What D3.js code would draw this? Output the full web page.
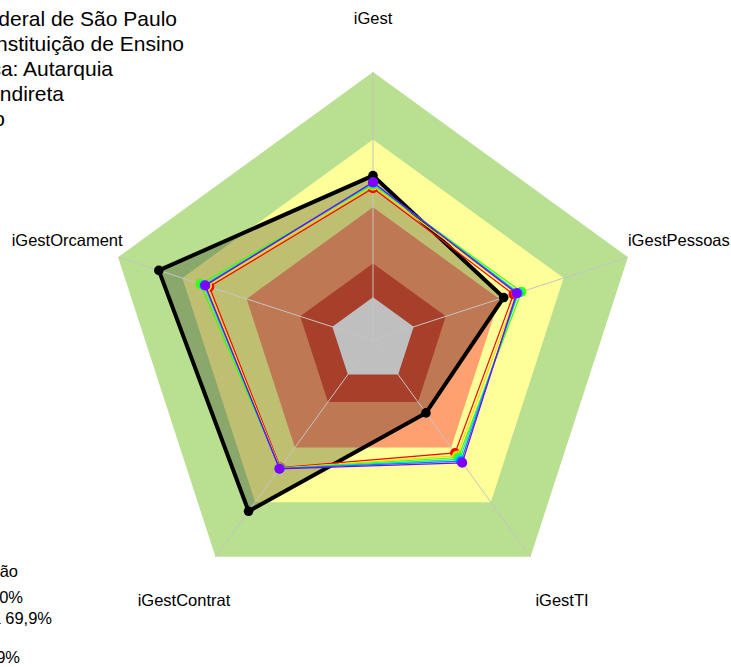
<!DOCTYPE html>
<html><head><meta charset="utf-8">
<script src="https://cdnjs.cloudflare.com/ajax/libs/d3/7.8.5/d3.min.js"></script>
<style>body{margin:0;background:#fff;overflow:hidden}svg{display:block}text{font-family:"Liberation Sans",Arial,sans-serif;fill:#000}</style>
</head><body><svg id="c" width="731" height="667"></svg>
<script>
const axesNames = ["iGest","iGestPessoas","iGestTI","iGestContrat","iGestOrcament"];
const seriesNames = ["Organização","Grupo 1","Grupo 2","Grupo 3","Grupo 4","Grupo 5","Grupo 6"];
const orgValues   = [54, 42, 21, 75, 81];
const s1Values    = [48.4, 46.6, 43.0, 51.0, 57.4];
const s2Values    = [49.5, 48.0, 44.5, 51.3, 58.5];
const s3Values    = [50.0, 50.3, 45.5, 51.5, 61.6];
const s4Values    = [50.5, 49.0, 46.5, 51.5, 60.0];
const s5Values    = [51.0, 48.5, 47.5, 51.5, 59.5];
const s6Values    = [51.0, 48.0, 48.4, 51.7, 59.3];
const seriesColors = ["#FF0000","#E8E000","#40FF00","#00E8C0","#0080FF","#8000FF"];
const bandLimits = [100, 70, 40, 15, 0];
const bandColors = ["#B8E090","#FFFF99","#FFA070","#E0553A","#FFFFFF"];
const titleLines = ["Organização: Instituto Federal de São Paulo","Tipo: Instituição de Ensino","Natureza jurídica: Autarquia","Administração Indireta","Poder: Executivo"];
const legendLines = ["Legenda - Classificação","Aprimorado: 70% a 100%","Intermediário: 40% a 69,9%","Iniciando: 15% a 39,9%","Inexpressivo: 0% a 14,9%"];

const svg = d3.select("#c");
const cx = 373, cy = 340, R = 268;
const r = d3.scaleLinear().domain([-19, 100]).range([0, R]);
const ang = d3.scaleLinear().domain([0, axesNames.length]).range([0, 2*Math.PI]);
const pt = (v, i) => [cx + r(v)*Math.sin(ang(i)), cy - r(v)*Math.cos(ang(i))];
const poly = vals => vals.map((v,i)=>pt(v,i));
const line = d3.line().curve(d3.curveLinearClosed);

// bands
bandLimits.forEach((b, k) => {
  svg.append("path").attr("d", line(axesNames.map((_,i)=>pt(b,i)))).attr("fill", bandColors[k]);
});

// organization series (filled)
svg.append("path").attr("d", line(poly(orgValues))).attr("fill","rgba(0,0,0,0.25)").attr("stroke","none");

// spokes
axesNames.forEach((_, i) => {
  const [x0,y0] = pt(-19,i), [x1,y1] = pt(100,i);
  svg.append("line").attr("x1",x0).attr("y1",y0).attr("x2",x1).attr("y2",y1).attr("stroke","#C4C4C4").attr("stroke-width",1);
});

svg.append("path").attr("d", line(poly(orgValues))).attr("fill","none").attr("stroke","#000").attr("stroke-width",4).attr("stroke-linejoin","round");
poly(orgValues).forEach(p => svg.append("circle").attr("cx",p[0]).attr("cy",p[1]).attr("r",4.8).attr("fill","#000"));

const others = [s1Values, s2Values, s3Values, s4Values, s5Values, s6Values];
others.forEach((vals, k) => {
  svg.append("path").attr("d", line(poly(vals))).attr("fill","none").attr("stroke",seriesColors[k]).attr("stroke-width",1.2);
  poly(vals).forEach(p => svg.append("circle").attr("cx",p[0]).attr("cy",p[1]).attr("r",5).attr("fill",seriesColors[k]));
});

// axis labels
axesNames.forEach((n, i) => {
  const [x,y] = pt(100 + 0.2*119, i);
  svg.append("text").attr("x",x).attr("y",y).attr("dy","0.35em").attr("text-anchor","middle").style("font-size","16.5px").text(n);
});

// title block
titleLines.forEach((t, i) => {
  const ends = [177, 184, 113, 64, 5];
  svg.append("text").attr("x", ends[i]).attr("y", 26 + 25*i).attr("text-anchor","end").style("font-size","21px").text(t);
});
// legend block
const lx = [18, 23, 52, -3, 20], ly = [577, 603, 624, 644, 663];
legendLines.forEach((t, i) => {
  svg.append("text").attr("x", lx[i]).attr("y", ly[i]).attr("text-anchor","end").style("font-size","16.5px").text(t);
});
</script></body></html>
